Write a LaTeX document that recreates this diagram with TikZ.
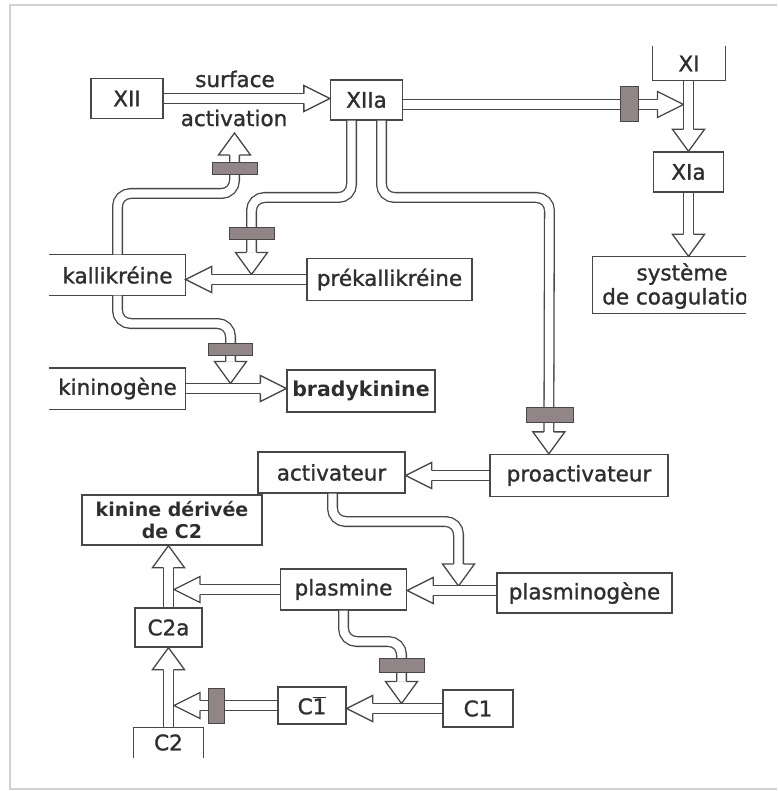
\documentclass[tikz,border=0pt]{standalone}
\usepackage{fontspec}
\setmainfont{DejaVu Sans}
\newfontfamily\medfont{DejaVu Sans}[RawFeature={embolden=1.2}]
\usetikzlibrary{calc}
\definecolor{ink}{HTML}{474747}
\definecolor{txt}{HTML}{2E2E2E}
\definecolor{barfill}{HTML}{918587}
\definecolor{frame}{HTML}{D2D2D2}
\begin{document}
\begin{tikzpicture}[x=1pt,y=-1pt,
  txtfont/.style={font=\fontsize{21.5}{24}\selectfont\medfont},
  boldfont/.style={font=\fontsize{20.5}{24}\selectfont\bfseries},
  box/.style={draw=ink, line width=1.3pt, fill=white, inner sep=0pt, text=txt, txtfont},
  openbox/.style={box, draw=none},
  edge/.style={draw=ink, line width=1.3pt},
  pipe/.style={draw=white, line width=8.4pt, rounded corners=13pt,
    preaction={draw=ink, line width=11pt}},
  bar/.style={draw=ink, line width=1pt, fill=barfill, inner sep=0pt},
  lbl/.style={text=txt, inner sep=0pt, txtfont},
  headR/.pic={\fill[white] (-26,-13) -- (0,0) -- (-26,13) -- cycle;
    \draw[ink, line width=1.3pt, line join=miter] (-26,-4.85) -- (-26,-13) -- (0,0) -- (-26,13) -- (-26,4.85);},
  headL/.pic={\fill[white] (26,-13) -- (0,0) -- (26,13) -- cycle;
    \draw[ink, line width=1.3pt, line join=miter] (26,-4.85) -- (26,-13) -- (0,0) -- (26,13) -- (26,4.85);},
  headD/.pic={\fill[white] (-16,-22) -- (0,0) -- (16,-22) -- cycle;
    \draw[ink, line width=1.3pt, line join=miter] (-4.85,-22) -- (-16,-22) -- (0,0) -- (16,-22) -- (4.85,-22);},
  headU/.pic={\fill[white] (-16,22) -- (0,0) -- (16,22) -- cycle;
    \draw[ink, line width=1.3pt, line join=miter] (-4.85,22) -- (-16,22) -- (0,0) -- (16,22) -- (4.85,22);},
]
\useasboundingbox (0,0) rectangle (777,791);
\fill[white] (0,0) rectangle (777,791);
% photo frame
\draw[frame, line width=2.5pt] (777,5) -- (10,5) -- (10,789) -- (777,789);

% ---------- boxes ----------
\node[box, minimum width=72pt, minimum height=40pt] (XII) at (127,98.5) {XII};
\node[box, minimum width=72pt, minimum height=40pt] (XIIa) at (366.5,100) {XIIa};
\node[openbox, minimum width=72pt, minimum height=33pt] (XI) at (689,63.5) {XI};
\node[box, minimum width=70pt, minimum height=40pt] (XIa) at (688.5,172) {XIa};
\node[openbox, minimum width=152pt, minimum height=56pt] (sys) at (669,285) {};
\node[openbox, minimum width=135pt, minimum height=40pt] (kal) at (117.5,275) {kallikréine};
\node[box, minimum width=165pt, minimum height=42pt] (prek) at (389.5,279.5) {prékallikréine};
\node[openbox, minimum width=135pt, minimum height=40pt] (kin) at (117.5,388.5) {kininogène};
\node[box, minimum width=148pt, minimum height=42pt, boldfont] (brady) at (361,391) {bradykinine};
\node[box, minimum width=147pt, minimum height=41pt] (act) at (331.5,472.5) {activateur};
\node[box, minimum width=178pt, minimum height=42pt] (proact) at (579,475.5) {proactivateur};
\node[box, minimum width=180pt, minimum height=50pt, align=center, font=\fontsize{19}{22}\selectfont\bfseries] (kdc) at (172,520) {kinine dérivée\\de C2};
\node[box, minimum width=126pt, minimum height=41pt] (plas) at (343.5,589.5) {plasmine};
\node[box, minimum width=175pt, minimum height=40pt] (plasg) at (584.5,593) {plasminogène};
\node[box, minimum width=67pt, minimum height=39pt] (C2a) at (168.5,627.5) {C2a};
\node[box, minimum width=68pt, minimum height=37pt] (C1b) at (312,705.5) {C$\overline{\hbox{1}}$};
\node[box, minimum width=70pt, minimum height=37pt] (C1) at (478,708.5) {C1};
\node[openbox, minimum width=69pt, minimum height=29pt] (C2) at (168.5,742.5) {C2};

% open-sided boxes
\draw[edge] (XI.north west) -- (XI.south west) -- (XI.south east) -- (XI.north east);
\draw[edge] (sys.north east) -- (sys.north west) -- (sys.south west) -- (sys.south east);
\draw[edge] (kal.north west) -- (kal.north east) -- (kal.south east) -- (kal.south west);
\draw[edge] (kin.north west) -- (kin.north east) -- (kin.south east) -- (kin.south west);
\draw[edge] (C2.south west) -- (C2.north west) -- (C2.north east) -- (C2.south east);
\begin{scope}
  \clip (0,0) rectangle (746,791);
  \node[lbl, align=center] (systxt) at (682,286) {système\\de coagulation};
\end{scope}

% edge labels
\node[lbl] (surf) at (235,79) {surface};
\node[lbl] (activ) at (234,118) {activation};

% ---------- junction points ----------
\coordinate (jXI) at (683.5,104.5);
\coordinate (jA) at (251.5,274.5);
\coordinate (jB) at (234.5,133);
\coordinate (jC) at ($(proact.north west)+(59.5,0)$);
\coordinate (jD) at (230.5,383.5);
\coordinate (jE) at (458.5,586);
\coordinate (rPl) at ($(plasg.west)+(0,-2.5)$);
\coordinate (jP) at (174,589.5);
\coordinate (jF) at (401.5,703.5);
\coordinate (jG) at (174,705.5);

% ---------- connectors ----------
\draw[pipe] (XII.east) -- ($(XIIa.west |- XII.east)+(-26,0)$);
\pic at (XIIa.west |- XII.east) {headR};

\draw[pipe] ($(XIIa.east)+(0,4.5)$) -- ($(jXI)+(-26,0)$);
\pic at (jXI) {headR};

\draw[pipe] (XI.south -| XIa.north) -- ($(XIa.north)+(0,-22)$);
\pic at (XIa.north) {headD};

\draw[pipe] (XIa.south) -- ($(XIa.south |- sys.north)+(0,-22)$);
\pic at (XIa.south |- sys.north) {headD};

\draw[pipe] ($(XIIa.south)+(-15,0)$) |- (251.5,197.5) -- ($(jA)+(0,-22)$);
\pic at (jA) {headD};

\draw[pipe] (kal.north) |- (234.5,193.5) -- ($(jB)+(0,22)$);
\pic at (jB) {headU};

\draw[pipe] ($(XIIa.south)+(15,0)$) |- (549.5,197.5) -- ($(jC)+(0,-22)$);
\pic at (jC) {headD};

\draw[pipe] (kal.south) |- (230.5,323.5) -- ($(jD)+(0,-22)$);
\pic at (jD) {headD};

\draw[pipe] (kin.east) -- ($(brady.west |- kin.east)+(-26,0)$);
\pic at (brady.west |- kin.east) {headR};

\draw[pipe] (prek.west) -- ($(kal.east |- prek.west)+(26,0)$);
\pic at (kal.east |- prek.west) {headL};

\draw[pipe] (proact.west) -- ($(act.east |- proact.west)+(26,0)$);
\pic at (act.east |- proact.west) {headL};

\draw[pipe] ($(act.south)+(1,0)$) |- (458.5,521.5) -- ($(jE)+(0,-22)$);
\pic at (jE) {headD};

\draw[pipe] (rPl) -- ($(plas.east |- rPl)+(26,0)$);
\pic at (plas.east |- rPl) {headL};

\draw[pipe] (plas.west) -- ($(jP)+(26,0)$);
\pic at (jP) {headL};

\draw[pipe] (C2a.north) -- ($(C2a.north |- kdc.south)+(0,22)$);
\pic at (C2a.north |- kdc.south) {headU};

\draw[pipe] (C2.north) -- ($(C2a.south)+(0,22)$);
\pic at (C2a.south) {headU};

\draw[pipe] (plas.south) |- (401.5,641.5) -- ($(jF)+(0,-22)$);
\pic at (jF) {headD};

\draw[pipe] (C1.west) -- ($(C1b.east |- C1.west)+(26,0)$);
\pic at (C1b.east |- C1.west) {headL};

\draw[pipe] (C1b.west) -- ($(jG)+(26,0)$);
\pic at (jG) {headL};

% ---------- blocking bars ----------
\node[bar, minimum width=18pt, minimum height=35pt] (bXI) at (629,104.5) {};
\node[bar, minimum width=45pt, minimum height=12pt] (bA) at (251.5,234) {};
\node[bar, minimum width=45pt, minimum height=12pt] (bB) at (234.5,169) {};
\node[bar, minimum width=47pt, minimum height=15pt] (bC) at (549.5,415) {};
\node[bar, minimum width=44pt, minimum height=12pt] (bD) at (230.5,349) {};
\node[bar, minimum width=45pt, minimum height=14pt] (bF) at (401.5,665) {};
\node[bar, minimum width=16pt, minimum height=35pt] (bG) at (216,705.5) {};
\end{tikzpicture}
\end{document}
